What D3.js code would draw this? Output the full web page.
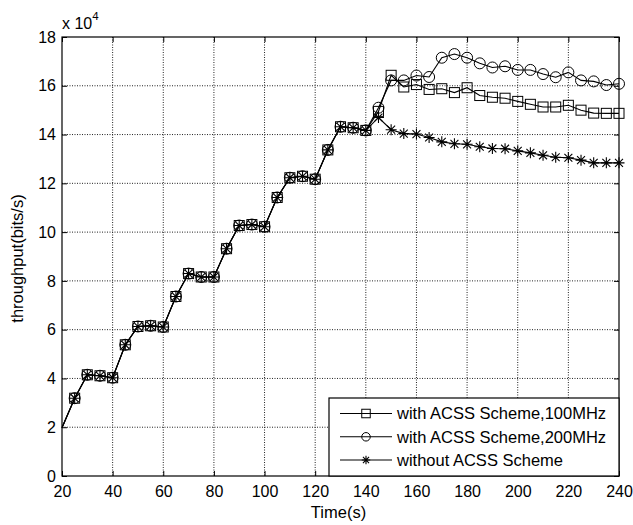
<!DOCTYPE html>
<html>
<head>
<meta charset="utf-8">
<script src="https://cdn.jsdelivr.net/npm/d3@7"></script>
<style>
  html, body { margin: 0; padding: 0; background: #fff; }
  svg { display: block; font-family: "Liberation Sans", Arial, sans-serif; }
</style>
</head>
<body>
<svg id="chart" width="633" height="525"></svg>
<script>
// ---- data (throughput in units of 1e4 bits/s) ----
const timeEarly = [20,25,30,35,40,45,50,55,60,65,70,75,80,85,90,95,100,105,110,115,120,125,130,135,140];
const sharedEarly = [1.98,3.19,4.15,4.11,4.03,5.38,6.13,6.16,6.11,7.36,8.30,8.16,8.16,9.32,10.27,10.31,10.22,11.42,12.23,12.29,12.17,13.37,14.32,14.28,14.17];
const timeLate = [145,150,155,160,165,170,175,180,185,190,195,200,205,210,215,220,225,230,235,240];
const acss100Late = [14.95,16.43,15.95,16.05,15.85,15.88,15.72,15.92,15.60,15.53,15.49,15.36,15.24,15.13,15.13,15.20,15.00,14.88,14.87,14.87];
const acss200Late = [15.10,16.22,16.22,16.42,16.36,17.15,17.30,17.15,16.92,16.75,16.80,16.65,16.65,16.48,16.35,16.55,16.22,16.18,16.03,16.08];
const noAcssLate  = [14.70,14.20,14.04,14.02,13.88,13.70,13.62,13.60,13.50,13.43,13.42,13.33,13.25,13.15,13.07,13.05,12.95,12.84,12.84,12.84];
const xTicks = [20,40,60,80,100,120,140,160,180,200,220,240];
const yTicks = [0,2,4,6,8,10,12,14,16,18];
const seriesNames = ["with ACSS Scheme,100MHz","with ACSS Scheme,200MHz","without ACSS Scheme"];
const seriesMarkers = ["square","circle","star"];

const times = timeEarly.concat(timeLate);
const seriesValues = [
  sharedEarly.concat(acss100Late),
  sharedEarly.concat(acss200Late),
  sharedEarly.concat(noAcssLate)
];

// ---- layout ----
const svg = d3.select("#chart");
const L = 62, R = 619, T = 37, B = 476;
const x = d3.scaleLinear().domain([20,240]).range([L,R]);
const y = d3.scaleLinear().domain([0,18]).range([B,T]);
const FS = "16px";

// grid
const grid = svg.append("g");
grid.selectAll(".gx").data(xTicks.slice(1,-1)).join("line")
  .attr("x1", d=>x(d)).attr("x2", d=>x(d)).attr("y1", T).attr("y2", B)
  .attr("stroke","#222").attr("stroke-width",1).attr("stroke-dasharray","1,1.5");
grid.selectAll(".gy").data(yTicks.slice(1,-1)).join("line")
  .attr("y1", d=>y(d)).attr("y2", d=>y(d)).attr("x1", L).attr("x2", R)
  .attr("stroke","#222").attr("stroke-width",1).attr("stroke-dasharray","1,1.5");

// axes using d3 axes (inward ticks), labels
const tl = 5;
const axB = svg.append("g").attr("transform",`translate(0,${B})`)
  .call(d3.axisBottom(x).tickValues(xTicks).tickSizeInner(-tl).tickSizeOuter(0).tickPadding(10));
const axL = svg.append("g").attr("transform",`translate(${L},0)`)
  .call(d3.axisLeft(y).tickValues(yTicks).tickSizeInner(-tl).tickSizeOuter(0).tickPadding(6));
const axT = svg.append("g").attr("transform",`translate(0,${T})`)
  .call(d3.axisTop(x).tickValues(xTicks).tickSizeInner(-tl).tickSizeOuter(0).tickFormat(""));
const axR = svg.append("g").attr("transform",`translate(${R},0)`)
  .call(d3.axisRight(y).tickValues(yTicks).tickSizeInner(-tl).tickSizeOuter(0).tickFormat(""));
[axB,axL,axT,axR].forEach(a=>{
  a.select(".domain").remove();
  a.selectAll("line").attr("stroke","#000").attr("stroke-width",1);
  a.selectAll("text").attr("font-size",FS).attr("fill","#000")
    .attr("font-family",'"Liberation Sans", Arial, sans-serif');
});
axB.selectAll("text").attr("dy","0.71em");

// frame
svg.append("rect").attr("x",L).attr("y",T).attr("width",R-L).attr("height",B-T)
  .attr("fill","none").attr("stroke","#000").attr("stroke-width",1.2);

// exponent label
const ex = svg.append("text").attr("x",L).attr("y",29).attr("font-size","16px").attr("fill","#000");
ex.append("tspan").text("x 10");
ex.append("tspan").attr("dy",-9).attr("font-size","11.5px").text("4");

// axis titles
svg.append("text").attr("x",(L+R)/2-2).attr("y",518).attr("text-anchor","middle")
  .attr("font-size","16.5px").text("Time(s)");
svg.append("text").attr("transform",`translate(23,${(T+B)/2+2}) rotate(-90)`)
  .attr("text-anchor","middle").attr("font-size","16.5px").text("throughput(bits/s)");

// marker drawing
function drawMarker(g, type, cx, cy, s) {
  if (type === "square") {
    g.append("rect").attr("x",cx-s/2).attr("y",cy-s/2).attr("width",s).attr("height",s)
      .attr("fill","none").attr("stroke","#000").attr("stroke-width",1);
  } else if (type === "circle") {
    g.append("circle").attr("cx",cx).attr("cy",cy).attr("r",s/2)
      .attr("fill","none").attr("stroke","#000").attr("stroke-width",1);
  } else {
    const r = s/2, d = r*0.72;
    const p = `M${cx-r},${cy}L${cx+r},${cy}M${cx},${cy-r}L${cx},${cy+r}M${cx-d},${cy-d}L${cx+d},${cy+d}M${cx-d},${cy+d}L${cx+d},${cy-d}`;
    g.append("path").attr("d",p).attr("fill","none").attr("stroke","#000").attr("stroke-width",1.1);
  }
}

const line = d3.line().x(d=>x(d.t)).y(d=>y(d.v));
const markerSize = {square:10, circle:11, star:11};
seriesValues.forEach((vals,i)=>{
  const data = times.map((t,k)=>({t, v: vals[k]}));
  const g = svg.append("g");
  g.append("path").datum(data).attr("d",line).attr("fill","none")
    .attr("stroke","#000").attr("stroke-width",1.1);
  data.filter(d=>d.t > 20).forEach(d=>drawMarker(g, seriesMarkers[i], x(d.t), y(d.v), markerSize[seriesMarkers[i]]));
});

// legend
const lg = svg.append("g");
const LX0 = 329, LY0 = 398, LX1 = 619, LY1 = 476;
lg.append("rect").attr("x",LX0).attr("y",LY0).attr("width",LX1-LX0).attr("height",LY1-LY0)
  .attr("fill","#fff").attr("stroke","#000").attr("stroke-width",1.2);
const rowY = [413.5, 436.8, 460];
seriesNames.forEach((name,i)=>{
  lg.append("line").attr("x1",340).attr("x2",392).attr("y1",rowY[i]).attr("y2",rowY[i])
    .attr("stroke","#000").attr("stroke-width",1.1);
  drawMarker(lg, seriesMarkers[i], 366, rowY[i], 8.5);
  lg.append("text").attr("x",397).attr("y",rowY[i]).attr("dy","0.36em")
    .attr("font-size","16.5px").text(name);
});
</script>
</body>
</html>
